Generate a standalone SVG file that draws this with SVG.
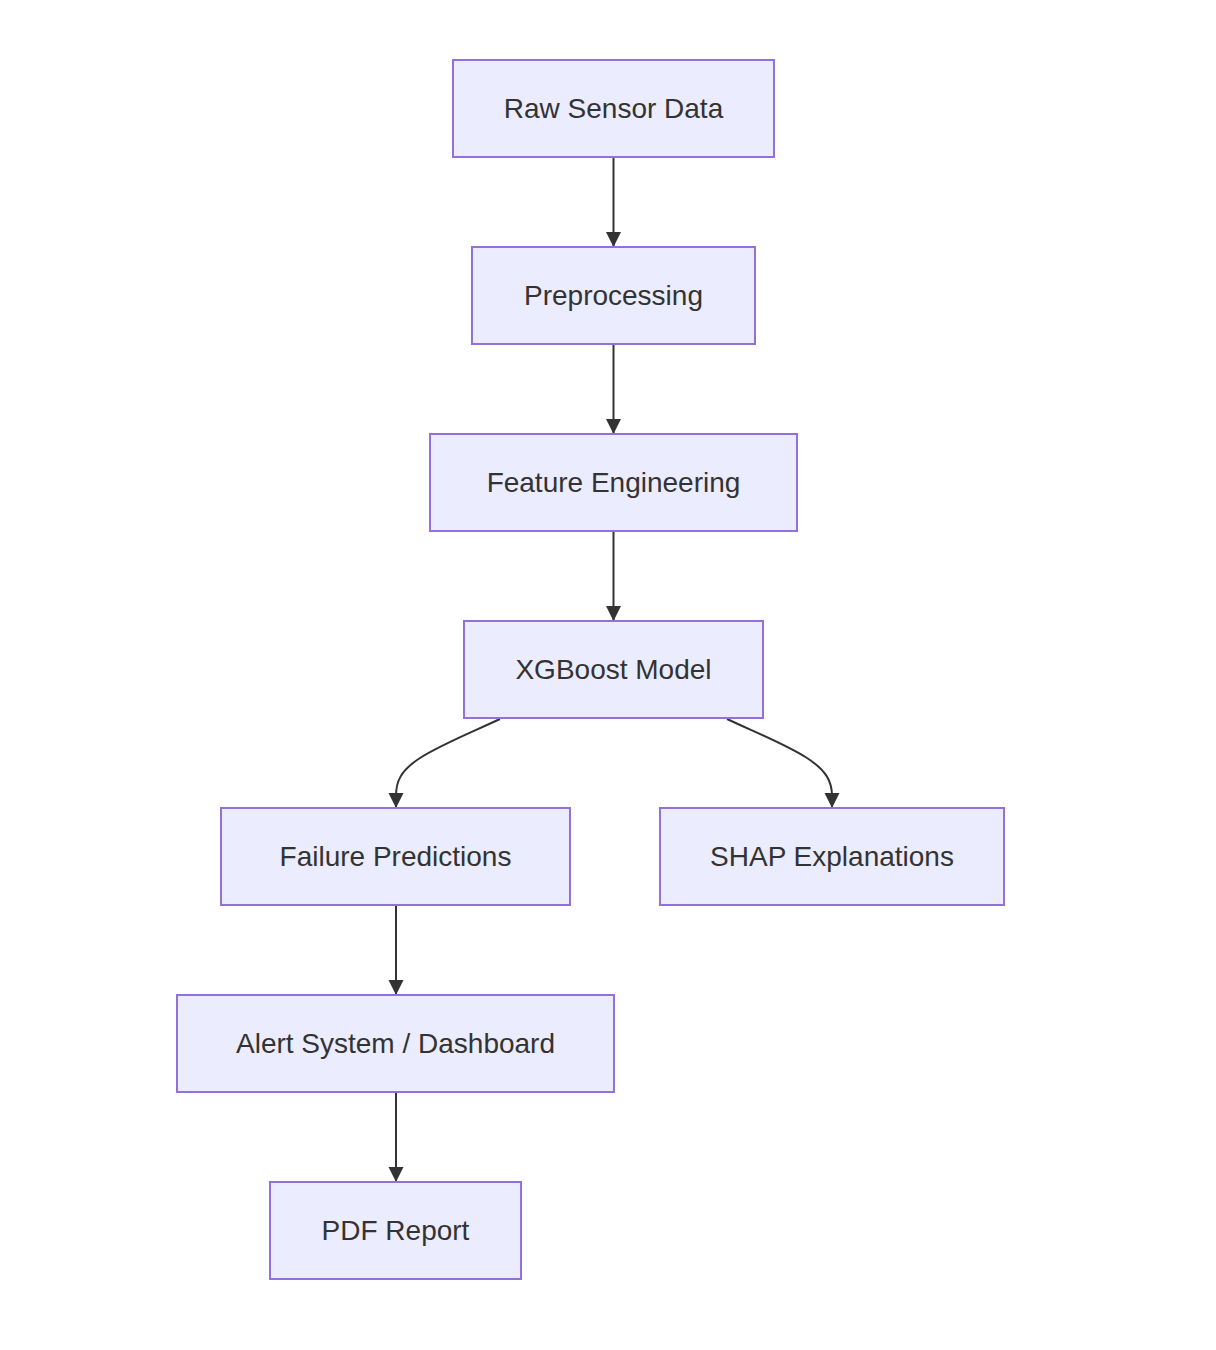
<svg xmlns="http://www.w3.org/2000/svg" width="1216" height="1350" viewBox="0 0 1216 1350">
<style>
.node rect{fill:#ECECFF;stroke:#9370DB;stroke-width:2}
.node text{font-family:"Liberation Sans",Arial,sans-serif;font-size:28px;fill:#333333;text-anchor:middle;dominant-baseline:central}
.edge{fill:none;stroke:#333333;stroke-width:2;marker-end:url(#arrow)}
</style>
<defs>
<marker id="arrow" viewBox="0 0 10 10" refX="10" refY="5" markerUnits="userSpaceOnUse" markerWidth="15" markerHeight="16" orient="auto">
<path d="M0,0 L10,5 L0,10 z" fill="#333333"/>
</marker>
</defs>
<rect width="1216" height="1350" fill="#ffffff"/>
<g id="connectors">
<path class="edge" d="M613.5,157 L613.5,247"/>
<path class="edge" d="M613.5,344 L613.5,434"/>
<path class="edge" d="M613.5,531 L613.5,621"/>
<path class="edge" d="M500,719 C470,733 440,745 420,758 C400,771 396,782 396,796 L396,808"/>
<path class="edge" d="M727,719 C757,733 787,745 807,758 C827,771 832,782 832,796 L832,808"/>
<path class="edge" d="M396,905 L396,995"/>
<path class="edge" d="M396,1092 L396,1182"/>
</g>
<g id="raw" class="node"><rect x="453" y="60" width="321" height="97"/><text x="613.5" y="108.5">Raw Sensor Data</text></g>
<g id="pre" class="node"><rect x="472" y="247" width="283" height="97"/><text x="613.5" y="295.5">Preprocessing</text></g>
<g id="feat" class="node"><rect x="430" y="434" width="367" height="97"/><text x="613.5" y="482.5">Feature Engineering</text></g>
<g id="xgb" class="node"><rect x="464" y="621" width="299" height="97"/><text x="613.5" y="669.5">XGBoost Model</text></g>
<g id="fail" class="node"><rect x="221" y="808" width="349" height="97"/><text x="395.5" y="856.5">Failure Predictions</text></g>
<g id="shap" class="node"><rect x="660" y="808" width="344" height="97"/><text x="832" y="856.5">SHAP Explanations</text></g>
<g id="alert" class="node"><rect x="177" y="995" width="437" height="97"/><text x="395.5" y="1043.5">Alert System / Dashboard</text></g>
<g id="pdf" class="node"><rect x="270" y="1182" width="251" height="97"/><text x="395.5" y="1230.5">PDF Report</text></g>
</svg>
